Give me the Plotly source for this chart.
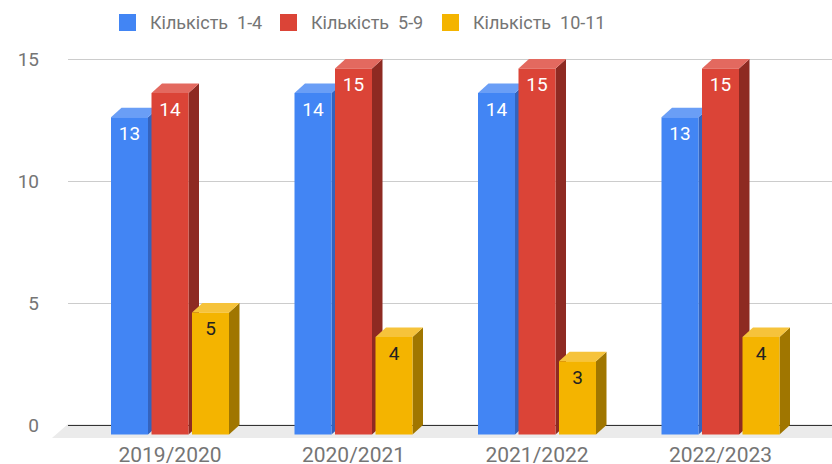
import plotly.graph_objects as go

categories = ["2019/2020", "2020/2021", "2021/2022", "2022/2023"]
series_names = ["Кількість\u00a0 1-4", "Кількість\u00a0 5-9", "Кількість\u00a0 10-11"]
values_1_4 = [13, 14, 14, 13]
values_5_9 = [14, 15, 15, 15]
values_10_11 = [5, 4, 3, 4]
y_ticks = [0, 5, 10, 15]

series = [values_1_4, values_5_9, values_10_11]
front_colors = ["#4285F4", "#DB4437", "#F4B400"]
side_colors = ["#3463BD", "#8E2A22", "#A07600"]
top_colors = ["#6A9EF6", "#E3695F", "#F6C33B"]
label_colors = ["#FFFFFF", "#FFFFFF", "#222222"]

W, H = 832, 464
L, R, T, B = 68, 0, 50, 24
PW, PH = W - L - R, H - T - B
PX_PER_CAT = 183.5
PX_PER_UNIT = 24.4
CAT0_PX = 170
ZERO_BACK_PX = 425
DX_PX, DY_PX = 10.5, 9.5
LABEL_DROP_PX = 18

x_range = [(L - CAT0_PX) / PX_PER_CAT, (L + PW - CAT0_PX) / PX_PER_CAT]
y_range = [(ZERO_BACK_PX - (T + PH)) / PX_PER_UNIT, (ZERO_BACK_PX - T) / PX_PER_UNIT]
dxu = DX_PX / PX_PER_CAT
dyu = DY_PX / PX_PER_UNIT
bar_w = 37 / PX_PER_CAT
offsets = [-40.5 / PX_PER_CAT, 0.0, 40.5 / PX_PER_CAT]


def px2paper(px, py):
    return (px - L) / PW, (T + PH - py) / PH


fig = go.Figure()

# side and top faces (drawn on the main subplot, under the front faces)
for k, vals in enumerate(series):
    for i, v in enumerate(vals):
        xl = i + offsets[k] - bar_w / 2
        xr = i + offsets[k] + bar_w / 2
        top = v - dyu
        fig.add_trace(go.Scatter(
            x=[xr, xr, xr + dxu, xr + dxu, xr],
            y=[-dyu, top, v, 0, -dyu],
            fill="toself", fillcolor=side_colors[k], mode="lines",
            line=dict(width=0), hoverinfo="skip", showlegend=False,
            xaxis="x", yaxis="y"))
        fig.add_trace(go.Scatter(
            x=[xl, xr, xr + dxu, xl + dxu, xl],
            y=[top, top, v, v, top],
            fill="toself", fillcolor=top_colors[k], mode="lines",
            line=dict(width=0), hoverinfo="skip", showlegend=False,
            xaxis="x", yaxis="y"))

# front faces
for k, vals in enumerate(series):
    xs = [i + offsets[k] for i in range(len(categories))]
    fig.add_trace(go.Bar(
        x=xs,
        y=vals,
        base=[-dyu] * len(vals),
        width=bar_w,
        marker=dict(color=front_colors[k], line=dict(width=0)),
        name=series_names[k],
        showlegend=False,
        xaxis="x2", yaxis="y2"))
    fig.add_trace(go.Scatter(
        x=xs,
        y=[v - dyu - LABEL_DROP_PX / PX_PER_UNIT for v in vals],
        mode="text",
        text=[str(v) for v in vals],
        textposition="middle center",
        textfont=dict(family="Roboto", size=19, color=label_colors[k]),
        hoverinfo="skip", showlegend=False,
        xaxis="x2", yaxis="y2"))

shapes = []
# floor
fx0, fy0 = px2paper(68, 424)
fx1, fy1 = px2paper(832, 438)
fx2, _ = px2paper(52, 438)
shapes.append(dict(type="path", xref="paper", yref="paper", layer="below",
                   path=f"M {fx0},{fy0} L {1.0},{fy0} L {1.0},{fy1} L {fx2},{fy1} Z",
                   fillcolor="#EBEBEB", line=dict(width=0)))

annotations = []
legend_x = [119, 280, 442]
for k in range(3):
    sx0, sy0 = px2paper(legend_x[k], 31)
    sx1, sy1 = px2paper(legend_x[k] + 17, 14)
    shapes.append(dict(type="rect", xref="paper", yref="paper",
                       x0=sx0, y0=sy0, x1=sx1, y1=sy1,
                       fillcolor=front_colors[k], line=dict(width=0)))
    tx, ty = px2paper(legend_x[k] + 29, 22)
    annotations.append(dict(xref="paper", yref="paper", x=tx, y=ty,
                            xanchor="left", yanchor="middle", showarrow=False,
                            text=series_names[k],
                            font=dict(family="Roboto", size=18, color="#757575")))

fig.update_layout(
    width=W, height=H,
    margin=dict(l=L, r=R, t=T, b=B, autoexpand=False),
    paper_bgcolor="white", plot_bgcolor="white",
    showlegend=False,
    barmode="overlay",
    shapes=shapes,
    annotations=annotations,
    xaxis=dict(range=x_range, tickvals=list(range(len(categories))), ticktext=categories,
               showgrid=False, zeroline=False, showline=False, ticks="",
               automargin=False, ticklabelstandoff=0,
               tickfont=dict(family="Roboto", size=21, color="#757575")),
    yaxis=dict(range=y_range, tickvals=y_ticks, showgrid=True, gridcolor="#CCCCCC",
               gridwidth=1, zeroline=True, zerolinecolor="#333333", zerolinewidth=1,
               showline=False, ticks="", ticklabelstandoff=28, automargin=False,
               tickfont=dict(family="Roboto", size=19, color="#757575")),
    xaxis2=dict(range=x_range, overlaying="x", visible=False, automargin=False),
    yaxis2=dict(range=y_range, overlaying="y", visible=False, automargin=False),
)

fig.write_html("out.html", config={"displayModeBar": False},
               post_script="document.body.style.margin='0px';document.body.style.overflow='hidden';")
